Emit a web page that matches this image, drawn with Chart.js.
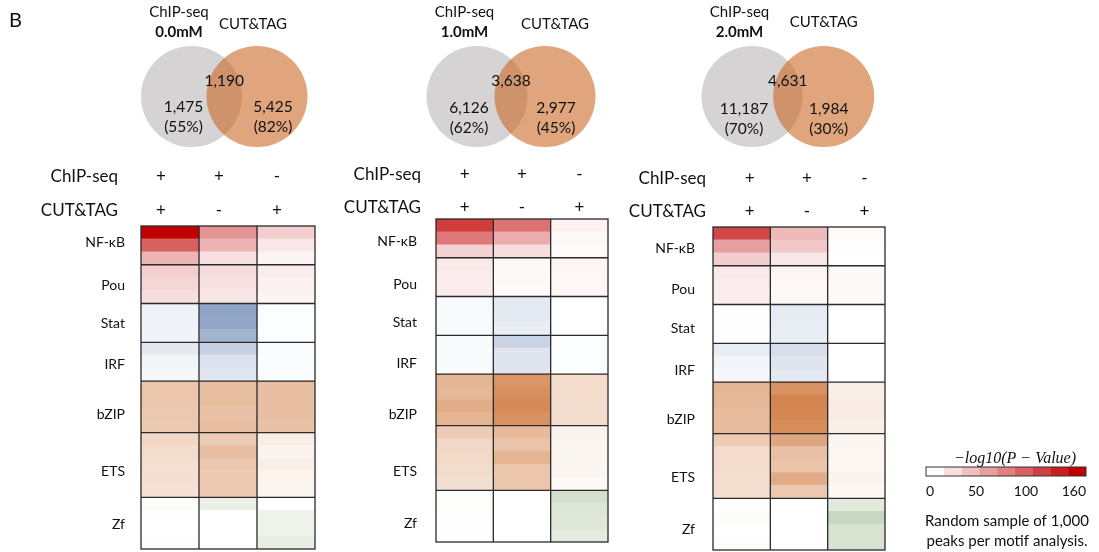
<!DOCTYPE html>
<html>
<head>
<meta charset="utf-8">
<script src="https://cdn.jsdelivr.net/npm/chart.js@4.4.0/dist/chart.umd.min.js"></script>
<style>
  html, body { margin: 0; padding: 0; background: #fff; }
  #wrap { position: relative; width: 1099px; height: 552px; overflow: hidden; }
  #wrap canvas { position: absolute; left: 0; top: 0; }
</style>
</head>
<body>
<div id="wrap">
  <canvas id="venn0" width="1099" height="552"></canvas>
  <canvas id="venn1" width="1099" height="552"></canvas>
  <canvas id="venn2" width="1099" height="552"></canvas>
  <canvas id="heat0" width="1099" height="552"></canvas>
  <canvas id="heat1" width="1099" height="552"></canvas>
  <canvas id="heat2" width="1099" height="552"></canvas>
  <canvas id="scale" width="1099" height="552"></canvas>
</div>
<script>
// ---- data ----
var concentrations = ["0.0mM", "1.0mM", "2.0mM"];
var chipOnly = [1475, 6126, 11187];
var overlap = [1190, 3638, 4631];
var cutOnly = [5425, 2977, 1984];
var chipPct = ["55%", "62%", "70%"];
var cutPct = ["82%", "45%", "30%"];

var motifs = ["NF-\u03BAB", "Pou", "Stat", "IRF", "bZIP", "ETS", "Zf"];
var motifStripes = [3, 3, 3, 3, 4, 5, 4];
var chipSigns = ["+", "+", "-"];
var cutSigns = ["+", "-", "+"];

// -log10(P) per stripe, top to bottom (NF-kB x3, Pou x3, Stat x3, IRF x3, bZIP x4, ETS x5, Zf x4)
var p0_both = [160, 100, 47, 31, 26, 21, 12, 12, 11, 21, 9, 8, 56, 55, 53, 52, 39, 34, 31, 30, 28, 3, 1, 0, 1];
var p0_chip = [68, 48, 19, 22, 19, 17, 86, 84, 71, 44, 28, 24, 63, 63, 60, 62, 50, 62, 54, 53, 53, 19, 0, 0, 0];
var p0_cut = [31, 16, 7, 12, 9, 7, 2, 2, 2, 4, 3, 3, 62, 62, 62, 60, 17, 12, 16, 11, 10, 0, 15, 15, 22];

var p1_both = [122, 85, 28, 14, 12, 12, 5, 5, 5, 5, 5, 5, 71, 69, 80, 73, 49, 38, 36, 34, 30, 2, 2, 1, 1];
var p1_chip = [88, 52, 21, 4, 4, 3, 21, 20, 17, 41, 25, 25, 102, 109, 113, 107, 67, 58, 73, 55, 55, 0, 0, 0, 0];
var p1_cut = [8, 4, 3, 6, 5, 5, 0, 0, 0, 2, 2, 2, 34, 34, 33, 33, 12, 10, 10, 9, 6, 40, 32, 29, 25];

var p2_both = [116, 60, 31, 14, 12, 11, 1, 1, 1, 18, 10, 8, 72, 70, 66, 66, 51, 34, 34, 32, 32, 0, 3, 0, 2];
var p2_chip = [44, 35, 16, 6, 5, 5, 19, 18, 17, 30, 25, 21, 107, 118, 115, 110, 87, 61, 58, 81, 53, 0, 0, 0, 0];
var p2_cut = [3, 2, 0, 4, 4, 4, 0, 0, 0, 0, 0, 0, 16, 18, 18, 16, 9, 8, 8, 12, 8, 27, 51, 37, 37];

var heatValues = [[p0_both, p0_chip, p0_cut], [p1_both, p1_chip, p1_cut], [p2_both, p2_chip, p2_cut]];

var legendMax = 160;
var legendSteps = 9;
var legendTicks = [0, 50, 100, 160];

// ---- styles ----
var FONT = "Lato, 'Open Sans', sans-serif";
var familyRgb = [[192, 0, 0], [192, 0, 0], [47, 85, 151], [47, 85, 151], [197, 90, 17], [197, 90, 17], [84, 130, 53]];

function shade(rgb, v) {
  var t = Math.max(0, Math.min(v / legendMax, 1));
  return "rgb(" + rgb.map(function (c) { return Math.round(255 + (c - 255) * t); }).join(",") + ")";
}

function text(ctx, s, x, y, size, align, weight, family) {
  ctx.font = (weight || "normal") + " " + size + "px " + (family || FONT);
  ctx.textAlign = align || "center";
  ctx.textBaseline = "middle";
  ctx.fillStyle = "#111";
  ctx.fillText(s, x, y);
}

var baseOptions = function (padding) {
  return {
    responsive: false,
    animation: false,
    events: [],
    layout: { padding: padding, autoPadding: false },
    plugins: { legend: { display: false }, tooltip: { enabled: false } }
  };
};

// ---- Venn diagrams ----
var vennLayout = [
  { greyX: 191.5, orangeX: 257, cutDx: -4, rightDx: 16, cutY: 24, numY: 107 },
  { greyX: 477, orangeX: 545, cutDx: 10, rightDx: 11, cutY: 24, numY: 108 },
  { greyX: 752, orangeX: 823.7, cutDx: 0, rightDx: 5, cutY: 22, numY: 109 }
];

vennLayout.forEach(function (L, i) {
  var opts = baseOptions({ left: L.greyX, right: 1099 - L.orangeX, top: 0, bottom: 552 - 193 });
  opts.scales = { x: { display: false, min: 0, max: 1 }, y: { display: false, min: -1, max: 1 } };
  new Chart(document.getElementById("venn" + i), {
    type: "scatter",
    data: {
      datasets: [{
        data: [{ x: 0, y: 0 }, { x: 1, y: 0 }],
        backgroundColor: ["rgb(213,211,212)", "rgba(203,105,38,0.6)"],
        borderWidth: 0,
        pointRadius: 50.5,
        clip: false
      }]
    },
    options: opts,
    plugins: [{
      id: "vennText",
      afterDatasetsDraw: function (chart) {
        var ctx = chart.ctx;
        var pts = chart.getDatasetMeta(0).data;
        var g = pts[0], o = pts[1];
        ctx.save();
        text(ctx, "ChIP-seq", g.x - 12.5, 12, 15);
        text(ctx, concentrations[i], g.x - 12.5, 32, 15, "center", "bold");
        text(ctx, "CUT&TAG", o.x + L.cutDx, L.cutY, 15);
        text(ctx, overlap[i].toLocaleString("en-US"), (g.x + o.x) / 2, 81, 15.5);
        text(ctx, chipOnly[i].toLocaleString("en-US"), g.x - 8, L.numY, 15.5);
        text(ctx, "(" + chipPct[i] + ")", g.x - 8, L.numY + 20, 15.5);
        text(ctx, cutOnly[i].toLocaleString("en-US"), o.x + L.rightDx, L.numY, 15.5);
        text(ctx, "(" + cutPct[i] + ")", o.x + L.rightDx, L.numY + 20, 15.5);
        ctx.restore();
      }
    }]
  });
});

// ---- heatmaps ----
var heatLayout = [
  { pad: { left: 141, top: 226, right: 784, bottom: 3 }, labelGap: 16, headRight: 118, signShift: -9, chipDy: -49, cutDy: -15,
    labelAt: [1.29, 4.57, 7.51, 10.68, 14.6, 19.0, 23.07] },
  { pad: { left: 436, top: 219, right: 491, bottom: 10 }, labelGap: 19, headRight: 421, signShift: 0, chipDy: -44, cutDy: -11,
    labelAt: [1.73, 5.08, 8.03, 11.2, 15.15, 19.56, 23.6] },
  { pad: { left: 713, top: 227, right: 214, bottom: 2 }, labelGap: 18, headRight: 706, signShift: 8, chipDy: -48, cutDy: -15,
    labelAt: [1.68, 4.86, 7.88, 11.1, 14.9, 19.4, 23.4] }
];

var stripeFamily = [];
var stripeIds = [];
motifStripes.forEach(function (n, m) {
  for (var k = 0; k < n; k++) { stripeFamily.push(m); stripeIds.push(motifs[m] + " " + (k + 1)); }
});

heatLayout.forEach(function (L, p) {
  var datasets = heatValues[p].map(function (vals, c) {
    return {
      label: chipSigns[c] + cutSigns[c],
      data: vals.map(function () { return [c, c + 1]; }),
      backgroundColor: vals.map(function (v, s) { return shade(familyRgb[stripeFamily[s]], v); }),
      borderWidth: 0,
      barPercentage: 1,
      categoryPercentage: 1
    };
  });
  var opts = baseOptions(L.pad);
  opts.indexAxis = "y";
  opts.scales = {
    x: { display: false, min: 0, max: 3 },
    y: { display: false, stacked: true }
  };
  new Chart(document.getElementById("heat" + p), {
    type: "bar",
    data: { labels: stripeIds, datasets: datasets },
    options: opts,
    plugins: [{
      id: "heatFrame",
      afterDatasetsDraw: function (chart) {
        var ctx = chart.ctx, a = chart.chartArea;
        var xs = chart.scales.x, ys = chart.scales.y;
        ctx.save();
        ctx.strokeStyle = "#2a2a2a";
        ctx.lineWidth = 1.3;
        ctx.strokeRect(a.left, a.top, a.right - a.left, a.bottom - a.top);
        ctx.beginPath();
        for (var c = 1; c < 3; c++) {
          var px = xs.getPixelForValue(c);
          ctx.moveTo(px, a.top); ctx.lineTo(px, a.bottom);
        }
        var acc = 0;
        for (var m = 0; m < motifStripes.length - 1; m++) {
          acc += motifStripes[m];
          var py = ys.getPixelForValue(acc - 0.5);
          ctx.moveTo(a.left, py); ctx.lineTo(a.right, py);
        }
        ctx.stroke();
        // motif names
        motifs.forEach(function (name, m) {
          text(ctx, name, a.left - L.labelGap, ys.getPixelForValue(L.labelAt[m] - 0.5), 14, "right");
        });
        // peak class header
        text(ctx, "ChIP-seq", L.headRight, a.top + L.chipDy, 17, "right");
        text(ctx, "CUT&TAG", L.headRight, a.top + L.cutDy, 17, "right");
        for (var k = 0; k < 3; k++) {
          var cx = xs.getPixelForValue(k + 0.5) + L.signShift;
          text(ctx, chipSigns[k], cx, a.top + L.chipDy, 17);
          text(ctx, cutSigns[k], cx, a.top + L.cutDy, 17);
        }
        ctx.restore();
      }
    }]
  });
});

// ---- colour scale ----
var stepSize = legendMax / legendSteps;
var scaleSets = [];
for (var k = 0; k < legendSteps; k++) {
  scaleSets.push({
    data: [[k * stepSize, (k + 1) * stepSize]],
    backgroundColor: shade(familyRgb[0], legendMax * k / (legendSteps - 1)),
    borderWidth: 0,
    barPercentage: 1,
    categoryPercentage: 1
  });
}
var sOpts = baseOptions({ left: 926, right: 13, top: 467, bottom: 76 });
sOpts.indexAxis = "y";
sOpts.scales = { x: { display: false, min: 0, max: legendMax }, y: { display: false, stacked: true } };
new Chart(document.getElementById("scale"), {
  type: "bar",
  data: { labels: ["-log10(P)"], datasets: scaleSets },
  options: sOpts,
  plugins: [{
    id: "scaleText",
    afterDatasetsDraw: function (chart) {
      var ctx = chart.ctx, a = chart.chartArea, xs = chart.scales.x;
      ctx.save();
      ctx.strokeStyle = "#333";
      ctx.lineWidth = 1;
      ctx.strokeRect(a.left, a.top, a.right - a.left, a.bottom - a.top);
      text(ctx, "\u2212log10(P \u2212 Value)", 1015, 459, 16, "center", "italic", "'Liberation Serif', serif");
      legendTicks.forEach(function (v, i) {
        var al = i === 0 ? "left" : (i === legendTicks.length - 1 ? "right" : "center");
        text(ctx, String(v), xs.getPixelForValue(v), 491, 14, al);
      });
      text(ctx, "Random sample of 1,000", 1007, 521, 15);
      text(ctx, "peaks per motif analysis.", 1007, 541, 15);
      // panel letter
      text(ctx, "B", 9, 21, 20, "left");
      ctx.restore();
    }
  }]
});
</script>
</body>
</html>
